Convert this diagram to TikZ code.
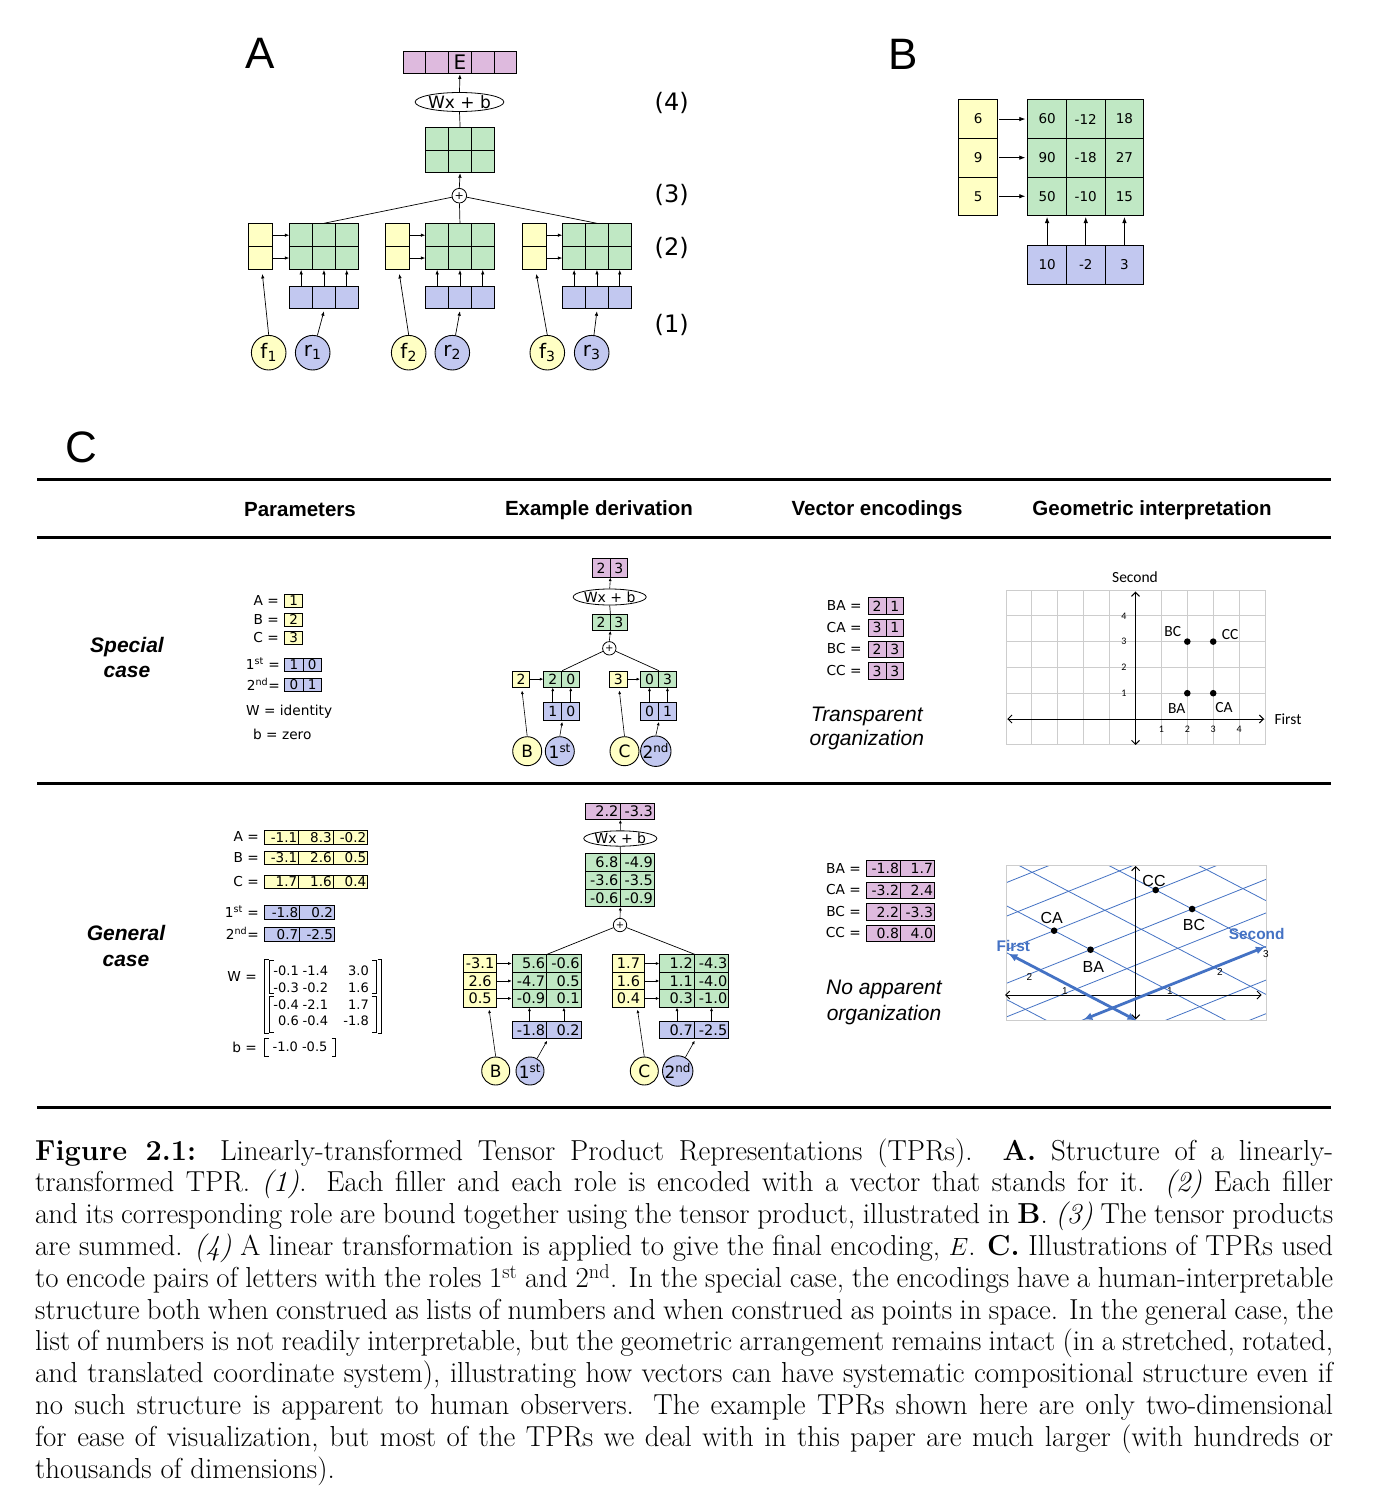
\documentclass[tikz,border=0pt]{standalone}
\usepackage{fontspec}
\usetikzlibrary{arrows.meta,shapes.geometric,calc}
\newfontfamily\fdv{DejaVu Sans}
\newfontfamily\far{Liberation Sans}
\newfontfamily\fcb{Carlito}
\newcommand\fsz[1]{\fontsize{#1}{#1}\selectfont}
\newcommand\emp{}
\definecolor{cyel}{RGB}{255,255,196}
\definecolor{cgrn}{RGB}{192,232,196}
\definecolor{cblu}{RGB}{194,200,240}
\definecolor{cpur}{RGB}{222,186,222}
\definecolor{cgrid}{RGB}{205,205,205}
\definecolor{cbl}{RGB}{68,114,196}
\newcommand\cells[7]{%
  \foreach \rw [count=\ii] in {#7}{%
    \foreach \vv [count=\jj] in \rw {%
      \node[#6, minimum width=#4, minimum height=#5] (#1-\ii-\jj) at ({#2+(\jj-1)*#4},{#3+(\ii-1)*#5}) {\vv};
    }}}
\tikzset{
  cell/.style={draw, line width=0.9pt, inner sep=0pt, anchor=north west, font=\fdv\fsz{13.5}},
  yc/.style={cell, fill=cyel}, gc/.style={cell, fill=cgrn},
  bc/.style={cell, fill=cblu}, pc/.style={cell, fill=cpur},
  rn/.style={text width=#1, align=right},
  arr/.style={-{Latex[length=4.5pt,width=3.5pt]}, line width=0.7pt},
  arrs/.style={-{Latex[length=3.5pt,width=3pt]}, line width=0.6pt},
  arrB/.style={-{Latex[length=6pt,width=4.5pt]}, line width=0.8pt},
  ln/.style={line width=0.7pt},
  yci/.style={circle, draw, fill=cyel, inner sep=0pt, line width=0.9pt},
  bci/.style={circle, draw, fill=cblu, inner sep=0pt, line width=0.9pt},
  plus/.style={circle, draw, fill=white, inner sep=0pt, line width=0.8pt},
  ell/.style={ellipse, draw, fill=white, inner sep=0pt, line width=0.8pt},
  panel/.style={font=\far\fsz{44}},
  hdr/.style={font=\far\bfseries\fsz{20.5}},
  rowl/.style={font=\far\bfseries\itshape\fontsize{21}{25.5}\selectfont, align=center},
  org/.style={font=\far\itshape\fontsize{21}{24.5}\selectfont, align=center},
  rule/.style={line width=3pt},
  ptxt/.style={inner sep=0pt, font=\fdv\fsz{13.7}},
  mtxt/.style={inner sep=0pt, font=\fdv\fsz{13}},
  stl/.style={inner sep=0pt, font=\fdv\fsz{24}},
  gridl/.style={cgrid, line width=0.9pt},
  ax/.style={line width=1pt, {Straight Barb[length=4pt,width=8pt]}-{Straight Barb[length=4pt,width=8pt]}},
  dot/.style={circle, fill=black, inner sep=0pt, minimum size=6.6pt},
  lat/.style={cbl, line width=0.8pt},
  thk/.style={cbl, line width=2.8pt, {Latex[length=9pt,width=8pt]}-{Latex[length=9pt,width=8pt]}},
  capl/.style={anchor=base west, inner sep=0pt, font=\fontsize{28.9}{31.8}\selectfont},
  brk/.style={line width=0.8pt}
}
\begin{document}
\begin{tikzpicture}[x=1pt,y=-1pt]
\useasboundingbox (0,0) rectangle (1374,1504);
\fill[white] (0,0) rectangle (1374,1504);

%% ---------------- Panel A ----------------
\node[panel] (lA) at (260.5,53.3) {A};
\cells{aE}{402.7}{50.7}{22.7}{22.7}{pc,font=\fdv\fsz{20}}{{\emp,\emp,E,\emp,\emp}}
\node[ell, minimum width=84, minimum height=19, font=\fdv\fsz{17}] (aW) at (459.5,102) {Wx + b};
\cells{aS}{425.3}{127.3}{22.9}{22.5}{gc}{{\emp,\emp,\emp},{\emp,\emp,\emp}}
\node[plus, minimum size=14.6, font=\fdv\fsz{11}] (aP) at (459.3,195.7) {+};
\draw[arr] (aW.north) -- (aE-1-3.south);
\draw[ln] (aS-1-2.north) -- (aW.south);
\draw[arr] (aP.north) -- (aS-2-2.south);
\foreach \k/\yx/\gx/\fx/\rx in {1/248.3/289.3/268.7/312.7, 2/385.3/425.3/408.7/452.3, 3/522.3/562.3/547.3/591.7} {
  \cells{aY\k}{\yx}{223.3}{23.2}{22.85}{yc}{{\emp},{\emp}}
  \cells{aG\k}{\gx}{223.3}{22.8}{22.85}{gc}{{\emp,\emp,\emp},{\emp,\emp,\emp}}
  \cells{aB\k}{\gx}{286}{22.8}{22.3}{bc}{{\emp,\emp,\emp}}
  \node[yci, minimum size=34.6, font=\fdv\fsz{20}] (f\k) at (\fx,352.7) {f\textsubscript{\k}};
  \node[bci, minimum size=34.6, font=\fdv\fsz{20}] (r\k) at (\rx,352.7) {r\textsubscript{\k}};
  \draw[ln] (aP) -- (aG\k-1-2.north);
  \foreach \ri in {1,2} \draw[arr] (aY\k-\ri-1.east) -- (aG\k-\ri-1.west);
  \foreach \ci in {1,2,3} \draw[arr] (aB\k-1-\ci.north) -- (aG\k-2-\ci.south);
  \draw[arr] (f\k.north) -- ([xshift=2pt,yshift=-4pt]aY\k-2-1.south);
  \draw[arr] (r\k) -- ([yshift=-2pt]aB\k-1-2.south);
}
\node[stl] (n4) at (671.7,103.3) {(4)};
\node[stl] (n3) at (671.7,195) {(3)};
\node[stl] (n2) at (671.7,248.3) {(2)};
\node[stl] (n1) at (671.7,325) {(1)};

%% ---------------- Panel B ----------------
\node[panel] (lB) at (903,54) {B};
\cells{bY}{958.3}{99.3}{39}{38.6}{yc}{{6},{9},{5}}
\cells{bG}{1027.3}{99.3}{38.67}{38.6}{gc}{{60,-12,18},{90,-18,27},{50,-10,15}}
\cells{bB}{1027.3}{245}{38.67}{39}{bc}{{10,-2,3}}
\foreach \ri in {1,2,3} \draw[arrB] ([xshift=1pt]bY-\ri-1.east) -- ([xshift=-2pt]bG-\ri-1.west);
\foreach \ci in {1,2,3} \draw[arrB] (bB-1-\ci.north) -- ([yshift=-1pt]bG-3-\ci.south);

%% ---------------- Panel C frame ----------------
\node[panel] (lC) at (81.7,447) {C};
\draw[rule] (37,479) -- (1331,479);
\draw[rule] (37,537) -- (1331,537);
\draw[rule] (37,783) -- (1331,783);
\draw[rule] (37,1107) -- (1331,1107);
\node[hdr] (h1) at (300,510) {Parameters};
\node[hdr] (h2) at (599,510) {Example derivation};
\node[hdr] (h3) at (877,510) {Vector encodings};
\node[hdr] (h4) at (1152,510) {Geometric interpretation};
\node[rowl] (rsp) at (127,657.5) {Special\\case};
\node[rowl] (rge) at (126,946) {General\\case};

%% ---------------- Special: parameters ----------------
\node[ptxt, anchor=east] (sAl) at (279,600.5) {A =};
\cells{sA}{284.3}{594}{17.7}{13}{yc}{{1}}
\node[ptxt, anchor=east] (sBl) at (279,619) {B =};
\cells{sB}{284.3}{612.5}{17.7}{13}{yc}{{2}}
\node[ptxt, anchor=east] (sCl) at (279,637.5) {C =};
\cells{sC}{284.3}{631}{17.7}{13}{yc}{{3}}
\node[ptxt, anchor=east] (s1l) at (280,664) {1\textsuperscript{st} =};
\cells{s1}{284.3}{657.5}{18.2}{13}{bc}{{1,0}}
\node[ptxt, anchor=east] (s2l) at (280,684) {2\textsuperscript{nd}=};
\cells{s2}{284.3}{677.5}{18.2}{13}{bc}{{0,1}}
\node[ptxt, anchor=west] (sW) at (246,711.7) {W = identity};
\node[ptxt, anchor=west] (sb) at (253,734) {b = zero};

%% ---------------- Special: derivation ----------------
\cells{dP}{591.7}{558.3}{17.8}{18.4}{pc,font=\fdv\fsz{14}}{{2,3}}
\node[ell, minimum width=67, minimum height=16, font=\fdv\fsz{14}] (dW) at (609.7,597) {Wx + b};
\cells{dS}{591.7}{614}{17.8}{16}{gc,font=\fdv\fsz{14}}{{2,3}}
\node[plus, minimum size=13.4, font=\fdv\fsz{10}] (dPl) at (609.3,648.3) {+};
\draw[arrs] (dW.north) -- (dP-1-1.south east);
\draw[ln] (dS-1-1.north east) -- (dW.south);
\draw[arrs] (dPl.north) -- (dS-1-1.south east);
\foreach \k/\yx/\gx/\fa/\fb/\la/\lb in {1/511.7/543.3/B/\fdv 1\textsuperscript{st}/527.2/559.8, 2/609/640/C/\fdv 2\textsuperscript{nd}/624.5/655.8} {
  \cells{dY\k}{\yx}{670.7}{17.7}{16}{yc,font=\fdv\fsz{14}}{{\emp}}
  \cells{dG\k}{\gx}{670.7}{18}{16}{gc,font=\fdv\fsz{14}}{{\emp,\emp}}
  \cells{dB\k}{\gx}{701.7}{18}{18.3}{bc,font=\fdv\fsz{14}}{{\emp,\emp}}
  \node[yci, minimum size=29, font=\fdv\fsz{17}] (dF\k) at (\la,751.2) {\fa};
  \node[bci, minimum size=29, font=\fdv\fsz{17}] (dR\k) at (\lb,751.2) {\fb};
  \draw[ln] (dPl) -- (dG\k-1-1.north east);
  \draw[arrs] (dY\k-1-1.east) -- (dG\k-1-1.west);
  \foreach \ci in {1,2} \draw[arrs] (dB\k-1-\ci.north) -- (dG\k-1-\ci.south);
  \draw[arrs] (dF\k.north) -- ([xshift=1pt,yshift=-3pt]dY\k-1-1.south);
  \draw[arrs] (dR\k.north) -- ([yshift=-1pt]dB\k-1-1.south east);
}
\node[font=\fdv\fsz{14}] (dv11) at (dY1-1-1) {2};
\node[font=\fdv\fsz{14}] (dv21) at (dY2-1-1) {3};
\node[font=\fdv\fsz{14}] (dg11) at (dG1-1-1) {2};
\node[font=\fdv\fsz{14}] (dg12) at (dG1-1-2) {0};
\node[font=\fdv\fsz{14}] (dg21) at (dG2-1-1) {0};
\node[font=\fdv\fsz{14}] (dg22) at (dG2-1-2) {3};
\node[font=\fdv\fsz{14}] (db11) at (dB1-1-1) {1};
\node[font=\fdv\fsz{14}] (db12) at (dB1-1-2) {0};
\node[font=\fdv\fsz{14}] (db21) at (dB2-1-1) {0};
\node[font=\fdv\fsz{14}] (db22) at (dB2-1-2) {1};

%% ---------------- Special: encodings ----------------
\foreach \k/\nm/\va/\vb in {0/BA/2/1, 1/CA/3/1, 2/BC/2/3, 3/CC/3/3} {
  \node[ptxt, anchor=east] (se\nm l) at (861.7,{605.55+\k*21.7}) {\nm\ =};
  \cells{se\nm}{867.7}{597.3+\k*21.7}{17.8}{16.5}{pc,font=\fdv\fsz{14}}{{\va,\vb}}
}
\node[org] (sorg) at (866.8,728.5) {Transparent\\organization};

%% ---------------- Special: geometry ----------------
\foreach \i in {-5,...,5} \draw[gridl] ({1135.5+\i*25.9},590) -- ({1135.5+\i*25.9},745);
\foreach \j in {-1,...,5} \draw[gridl] (1006,{719-\j*25.8}) -- (1265,{719-\j*25.8});
\coordinate (sxl) at (1007.3,719); \coordinate (sxr) at (1264,719);
\coordinate (syt) at (1135.5,591.7); \coordinate (syb) at (1135.5,745);
\draw[ax] (sxl) -- (sxr);
\draw[ax] (syb) -- (syt);
\node[font=\fcb\fsz{15.5}] (sSec) at (1135,577) {Second};
\node[font=\fcb\fsz{15.5}, anchor=west] (sFir) at (1271,719.5) {First};
\foreach \t in {1,2,3,4} {
  \node[font=\fcb\fsz{10}] (sxt\t) at ({1135.5+\t*25.9},729.5) {\t};
  \node[font=\fcb\fsz{10}] (syt\t) at (1124,{719-\t*25.8}) {\t};
}
\node[dot] (sBC) at ({1135.5+2*25.9},{719-3*25.8}) {};
\node[dot] (sCC) at ({1135.5+3*25.9},{719-3*25.8}) {};
\node[dot] (sBA) at ({1135.5+2*25.9},{719-1*25.8}) {};
\node[dot] (sCA) at ({1135.5+3*25.9},{719-1*25.8}) {};
\node[font=\fcb\fsz{15.5}] (sBCl) at (1172.7,631.7) {BC};
\node[font=\fcb\fsz{15.5}] (sCCl) at (1230,635) {CC};
\node[font=\fcb\fsz{15.5}] (sBAl) at (1176.7,708.3) {BA};
\node[font=\fcb\fsz{15.5}] (sCAl) at (1224,707.7) {CA};

%% ---------------- General: parameters ----------------
\node[ptxt, anchor=east] (gAl) at (259,836.7) {A =};
\cells{gA}{263.7}{830}{34.5}{13.5}{yc,rn=31.5}{{-1.1,8.3,-0.2}}
\node[ptxt, anchor=east] (gBl) at (259,857.5) {B =};
\cells{gB}{263.7}{850.7}{34.5}{13.5}{yc,rn=31.5}{{-3.1,2.6,0.5}}
\node[ptxt, anchor=east] (gCl) at (259,881.5) {C =};
\cells{gC}{263.7}{874.7}{34.5}{13.5}{yc,rn=31.5}{{1.7,1.6,0.4}}
\node[ptxt, anchor=east] (g1l) at (259,912) {1\textsuperscript{st} =};
\cells{g1}{264.3}{905}{34.8}{14}{bc,rn=32}{{-1.8,0.2}}
\node[ptxt, anchor=east] (g2l) at (259,933.7) {2\textsuperscript{nd}=};
\cells{g2}{264.3}{926.7}{34.8}{14}{bc,rn=32}{{0.7,-2.5}}
\node[ptxt, anchor=east] (gWl) at (257,976.5) {W =};
\foreach \rr/\yy/\va/\vb/\vc in {1/971/-0.1/-1.4/3.0, 2/988/-0.3/-0.2/1.6, 3/1004.5/-0.4/-2.1/1.7, 4/1021/0.6/-0.4/-1.8} {
  \node[mtxt, anchor=east] (gW\rr a) at (299,\yy) {\va};
  \node[mtxt, anchor=east] (gW\rr b) at (328.3,\yy) {\vb};
  \node[mtxt, anchor=east] (gW\rr c) at (369,\yy) {\vc};
}
\draw[brk] (268.5,959.5) -- (264.3,959.5) -- (264.3,1033.3) -- (268.5,1033.3);
\draw[brk] (273.7,960.5) -- (269.5,960.5) -- (269.5,993.3) -- (273.7,993.3);
\draw[brk] (273.7,996.7) -- (269.5,996.7) -- (269.5,1032.3) -- (273.7,1032.3);
\draw[brk] (371.8,960.5) -- (376,960.5) -- (376,993.3) -- (371.8,993.3);
\draw[brk] (371.8,996.7) -- (376,996.7) -- (376,1032.3) -- (371.8,1032.3);
\draw[brk] (377.5,959.5) -- (381.7,959.5) -- (381.7,1033.3) -- (377.5,1033.3);
\node[ptxt, anchor=east] (gbl) at (257,1047) {b =};
\node[mtxt] (gbv) at (300,1047) {-1.0 -0.5};
\draw[brk] (268.5,1038.5) -- (264.3,1038.5) -- (264.3,1056) -- (268.5,1056);
\draw[brk] (331.5,1038.5) -- (335.7,1038.5) -- (335.7,1056) -- (331.5,1056);

%% ---------------- General: derivation ----------------
\cells{gP}{585}{803.3}{34.5}{15.7}{pc,rn=31.5,font=\fdv\fsz{14.5}}{{2.2,-3.3}}
\node[ell, minimum width=67, minimum height=15, font=\fdv\fsz{14}] (gWe) at (620.3,838.5) {Wx + b};
\cells{gS}{585}{853.3}{34.5}{17.6}{gc,rn=31.5,font=\fdv\fsz{14.5}}{{6.8,-4.9},{-3.6,-3.5},{-0.6,-0.9}}
\node[plus, minimum size=13.4, font=\fdv\fsz{10}] (gPl) at (620,925) {+};
\draw[arrs] (gWe.north) -- (gP-1-1.south east);
\draw[ln] (gS-1-1.north east) -- (gWe.south);
\draw[arrs] (gPl.north) -- (gS-3-1.south east);
\cells{gY1}{463.3}{954.3}{32.7}{17.47}{yc,font=\fdv\fsz{14.5}}{{-3.1},{2.6},{0.5}}
\cells{gG1}{511.7}{954.3}{34.5}{17.47}{gc,rn=31.5,font=\fdv\fsz{14.5}}{{5.6,-0.6},{-4.7,0.5},{-0.9,0.1}}
\cells{gB1}{511.7}{1020.7}{34.5}{17.6}{bc,rn=31.5,font=\fdv\fsz{14.5}}{{-1.8,0.2}}
\cells{gY2}{611.7}{954.3}{32.7}{17.47}{yc,font=\fdv\fsz{14.5}}{{1.7},{1.6},{0.4}}
\cells{gG2}{659.3}{954.3}{34.5}{17.47}{gc,rn=31.5,font=\fdv\fsz{14.5}}{{1.2,-4.3},{1.1,-4.0},{0.3,-1.0}}
\cells{gB2}{659.3}{1020.7}{34.5}{17.6}{bc,rn=31.5,font=\fdv\fsz{14.5}}{{0.7,-2.5}}
\node[yci, minimum size=28, font=\fdv\fsz{17}] (gF1) at (495.7,1071) {B};
\node[bci, minimum size=28, font=\fdv\fsz{17}] (gR1) at (530,1071) {1\textsuperscript{st}};
\node[yci, minimum size=28, font=\fdv\fsz{17}] (gF2) at (644.3,1071) {C};
\node[bci, minimum size=28, font=\fdv\fsz{17}] (gR2) at (677.7,1071) {2\textsuperscript{nd}};
\foreach \k in {1,2} {
  \draw[ln] (gPl) -- (gG\k-1-1.north east);
  \foreach \ri in {1,2,3} \draw[arrs] (gY\k-\ri-1.east) -- (gG\k-\ri-1.west);
  \foreach \ci in {1,2} \draw[arrs] (gB\k-1-\ci.north) -- (gG\k-3-\ci.south);
  \draw[arrs] (gF\k.north) -- ([xshift=9pt,yshift=-2pt]gY\k-3-1.south);
  \draw[arrs] (gR\k) -- ([yshift=-1.5pt]gB\k-1-1.south east);
}

%% ---------------- General: encodings ----------------
\foreach \k/\nm/\va/\vb/\yy in {0/BA/-1.8/1.7/868, 1/CA/-3.2/2.4/890, 2/BC/2.2/-3.3/911.5, 3/CC/0.8/4.0/933} {
  \node[ptxt, anchor=east] (ge\nm l) at (861,\yy) {\nm\ =};
  \cells{ge\nm}{866}{\yy-8.25}{34}{16.5}{pc,rn=31,font=\fdv\fsz{14}}{{\va,\vb}}
}
\node[org, font=\far\itshape\fontsize{21}{26}\selectfont] (gorg) at (884,1002) {No apparent\\organization};

%% ---------------- General: geometry ----------------
\begin{scope}
  \clip (1006.7,865) rectangle (1266,1020.7);
  \foreach \k in {-3,...,7} {
    \draw[lat] ({1112.5+(\k)*(-36.4)+(-4)*50.8},{1008+(\k)*(-19)+(-4)*(-20.35)}) -- ({1112.5+(\k)*(-36.4)+8*50.8},{1008+(\k)*(-19)+8*(-20.35)});
    \draw[lat] ({1112.5+(\k)*50.8+(-4)*(-36.4)},{1008+(\k)*(-20.35)+(-4)*(-19)}) -- ({1112.5+(\k)*50.8+8*(-36.4)},{1008+(\k)*(-20.35)+8*(-19)});
  }
\end{scope}
\draw[cgrid, line width=0.9pt] (1006.7,865) rectangle (1266,1020.7);
\coordinate (gxl) at (1005,995); \coordinate (gxr) at (1261.7,995);
\coordinate (gyt) at (1135.7,866); \coordinate (gyb) at (1135.7,1019.3);
\draw[ax] (gxl) -- (gxr);
\draw[ax] (gyb) -- (gyt);
\coordinate (f1a) at ({1112.5+(-0.66)*(-36.4)},{1008+(-0.66)*(-19)});
\coordinate (f1b) at ({1112.5+2.86*(-36.4)},{1008+2.86*(-19)});
\coordinate (s1a) at ({1112.5+(-0.575)*50.8},{1008+(-0.575)*(-20.35)});
\coordinate (s1b) at ({1112.5+3.0*50.8},{1008+3.0*(-20.35)});
\draw[thk] (f1a) -- (f1b);
\draw[thk] (s1a) -- (s1b);
\node[font=\far\bfseries\fsz{15.4}, text=cbl] (gFir) at (1013.3,946) {First};
\node[font=\far\bfseries\fsz{15.4}, text=cbl] (gSec) at (1256.7,934) {Second};
\node[font=\far\fsz{10}] (gt1) at (1065,991) {1};
\node[font=\far\fsz{10}] (gt2) at (1029.3,977.3) {2};
\node[font=\far\fsz{10}] (gu1) at (1170,991) {1};
\node[font=\far\fsz{10}] (gu2) at (1220,971.7) {2};
\node[font=\far\fsz{10}] (gu3) at (1266,954) {3};
\node[dot] (gCA) at (1054.1,930.7) {};
\node[dot] (gBA) at (1090.5,949.7) {};
\node[dot] (gCC) at (1155.7,890) {};
\node[dot] (gBC) at (1192.1,909) {};
\node[font=\far\fsz{16}] (gCAl) at (1051.7,918.3) {CA};
\node[font=\far\fsz{16}] (gBAl) at (1093.3,967.3) {BA};
\node[font=\far\fsz{16}] (gCCl) at (1154,880.7) {CC};
\node[font=\far\fsz{16}] (gBCl) at (1194,925) {BC};

%% ---------------- Caption ----------------
\node[capl] (cap1) at (35,1160) {\makebox[1298pt][s]{\textbf{Figure 2.1:} Linearly-transformed Tensor Product Representations (TPRs). \textbf{A.} Structure of a linearly-}};
\node[capl] (cap2) at (35,1191.8) {\makebox[1298pt][s]{transformed TPR. \textit{(1)}. Each filler and each role is encoded with a vector that stands for it. \textit{(2)} Each filler}};
\node[capl] (cap3) at (35,1223.6) {\makebox[1298pt][s]{and its corresponding role are bound together using the tensor product, illustrated in \textbf{B}. \textit{(3)} The tensor products}};
\node[capl] (cap4) at (35,1255.4) {\makebox[1298pt][s]{are summed. \textit{(4)} A linear transformation is applied to give the final encoding, $E$. \textbf{C.} Illustrations of TPRs used}};
\node[capl] (cap5) at (35,1287.2) {\makebox[1298pt][s]{to encode pairs of letters with the roles 1\textsuperscript{st} and 2\textsuperscript{nd}. In the special case, the encodings have a human-interpretable}};
\node[capl] (cap6) at (35,1319) {\makebox[1298pt][s]{structure both when construed as lists of numbers and when construed as points in space. In the general case, the}};
\node[capl] (cap7) at (35,1350.8) {\makebox[1298pt][s]{list of numbers is not readily interpretable, but the geometric arrangement remains intact (in a stretched, rotated,}};
\node[capl] (cap8) at (35,1382.6) {\makebox[1298pt][s]{and translated coordinate system), illustrating how vectors can have systematic compositional structure even if}};
\node[capl] (cap9) at (35,1414.4) {\makebox[1298pt][s]{no such structure is apparent to human observers. The example TPRs shown here are only two-dimensional}};
\node[capl] (cap10) at (35,1446.2) {\makebox[1298pt][s]{for ease of visualization, but most of the TPRs we deal with in this paper are much larger (with hundreds or}};
\node[capl] (cap11) at (35,1478) {thousands of dimensions).};
\end{tikzpicture}
\end{document}
